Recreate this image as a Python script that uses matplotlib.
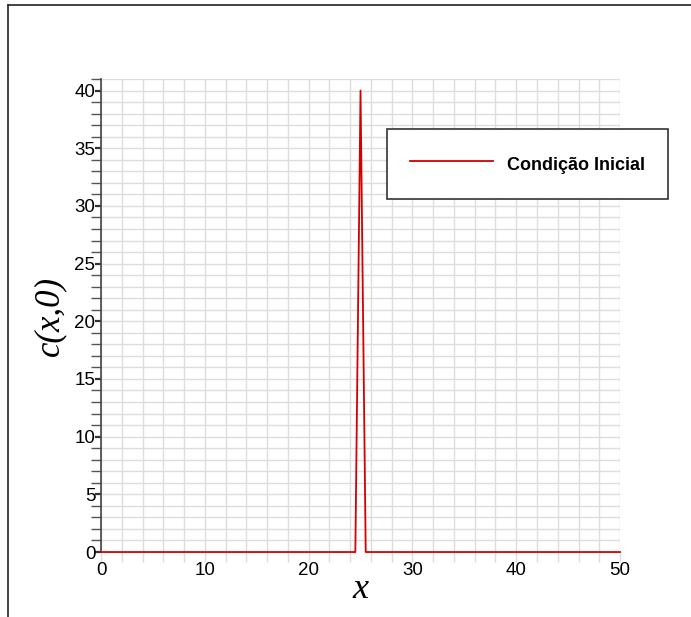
import matplotlib.pyplot as plt
from matplotlib.lines import Line2D
from matplotlib.ticker import MultipleLocator

# initial condition: narrow pulse at x = 25
x_pts = [0, 24.5, 25, 25.5, 50]
c_pts = [0, 0, 40, 0, 0]
serie_label = "Condição Inicial"

fig = plt.figure(figsize=(6.91, 6.17), dpi=100)
ax = fig.add_axes([0.1462, 0.1053, 0.7511, 0.7667])

# frame lines around the figure (top and left only)
fig.add_artist(Line2D([8 / 691, 8 / 691], [0, 1 - 5 / 617], color="#222222", lw=1.2))
fig.add_artist(Line2D([8 / 691, 1], [1 - 5 / 617, 1 - 5 / 617], color="#222222", lw=1.2))

ax.plot(x_pts, c_pts, color="#d40000", lw=1.3, label=serie_label, clip_on=False, zorder=3)

ax.set_xlim(0, 50)
ax.set_ylim(0, 41)

ax.xaxis.set_major_locator(MultipleLocator(10))
ax.xaxis.set_minor_locator(MultipleLocator(2))
ax.yaxis.set_major_locator(MultipleLocator(5))
ax.yaxis.set_minor_locator(MultipleLocator(1))

ax.grid(which="both", color="#dcdcdc", lw=1.0)
ax.set_axisbelow(True)

for s in ["top", "right", "bottom"]:
    ax.spines[s].set_visible(False)
ax.spines["left"].set_color("#444444")
ax.spines["left"].set_linewidth(1.2)

ax.tick_params(axis="x", which="both", length=7, color="#dcdcdc", width=1.0,
               labelsize=13.5, pad=0)
ax.tick_params(axis="y", which="major", length=4, color="#333333", width=1.6,
               labelsize=13.5, pad=0)
ax.tick_params(axis="y", which="minor", length=7, color="#555555", width=1.0)
for lab in ax.get_xticklabels() + ax.get_yticklabels():
    lab.set_fontfamily("Liberation Sans")

ax.set_xlabel("x", fontfamily="Liberation Serif", fontstyle="italic", fontsize=26, labelpad=-4)
ax.set_ylabel("c(x,0)", fontfamily="Liberation Serif", fontstyle="italic", fontsize=25, labelpad=6)

leg = ax.legend(loc="upper left", bbox_to_anchor=(387 / 691, 1 - 129 / 617),
                bbox_transform=fig.transFigure, frameon=True, fancybox=False,
                edgecolor="#333333", borderpad=1.27, handlelength=4.6,
                handleheight=1.7, handletextpad=0.8, borderaxespad=0,
                prop={"family": "Liberation Sans", "weight": "bold", "size": 13})
leg.get_frame().set_linewidth(1.2)
leg.get_frame().set_alpha(1)

fig.savefig("out.png", dpi=100)
